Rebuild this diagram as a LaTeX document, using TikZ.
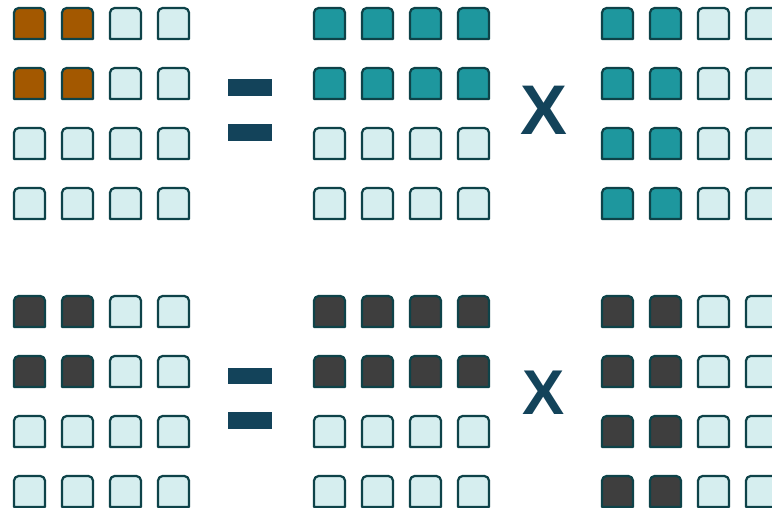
\documentclass[tikz,border=0pt]{standalone}
\usepackage{fontspec}
\newfontfamily\symfont{Liberation Sans}
\usepackage{xcolor}

\definecolor{cellline}{HTML}{0E4349}
\definecolor{celllight}{HTML}{D6EEEF}
\definecolor{cellteal}{HTML}{1E979E}
\definecolor{cellorange}{HTML}{A35800}
\definecolor{cellgray}{HTML}{3E3E3E}
\definecolor{symcol}{HTML}{13435A}

\tikzset{
  cell/.style={draw=cellline, line width=1.9pt, line join=round},
  opsign/.style={text=symcol, inner sep=0pt, font=\symfont\bfseries\fontsize{#1}{#1}\selectfont},
}
% one cell with rounded top corners, top-left corner at (#1,#2)
\newcommand{\cellat}[3]{%
  \filldraw[cell, fill=#3] (#1,#2+31) [rounded corners=4pt] -- (#1,#2) -- (#1+31,#2) [sharp corners] -- (#1+31,#2+31) -- cycle;}

\begin{document}
\begin{tikzpicture}[x=0.03cm, y=-0.03cm]
  \useasboundingbox (0,0) rectangle (772,508);
  \fill[white] (0,0) rectangle (772,508);
  \clip (0,0) rectangle (772,508);
  % top row: result, left factor, right factor
  \begin{scope}[shift={(14,8)}]
    \foreach \c in {0,...,3} \foreach \r in {0,...,3} {
      \ifnum\c<2 \ifnum\r<2 \def\f{cellorange}\else\def\f{celllight}\fi \else\def\f{celllight}\fi
      \cellat{48*\c}{60*\r}{\f}
    }
  \end{scope}
  \begin{scope}[shift={(314,8)}]
    \foreach \c in {0,...,3} \foreach \r in {0,...,3} {
      \ifnum\r<2 \def\f{cellteal}\else\def\f{celllight}\fi
      \cellat{48*\c}{60*\r}{\f}
    }
  \end{scope}
  \begin{scope}[shift={(602,8)}]
    \foreach \c in {0,...,3} \foreach \r in {0,...,3} {
      \ifnum\c<2 \def\f{cellteal}\else\def\f{celllight}\fi
      \cellat{48*\c}{60*\r}{\f}
    }
  \end{scope}
  % bottom row
  \begin{scope}[shift={(14,296)}]
    \foreach \c in {0,...,3} \foreach \r in {0,...,3} {
      \ifnum\c<2 \ifnum\r<2 \def\f{cellgray}\else\def\f{celllight}\fi \else\def\f{celllight}\fi
      \cellat{48*\c}{60*\r}{\f}
    }
  \end{scope}
  \begin{scope}[shift={(314,296)}]
    \foreach \c in {0,...,3} \foreach \r in {0,...,3} {
      \ifnum\r<2 \def\f{cellgray}\else\def\f{celllight}\fi
      \cellat{48*\c}{60*\r}{\f}
    }
  \end{scope}
  \begin{scope}[shift={(602,296)}]
    \foreach \c in {0,...,3} \foreach \r in {0,...,3} {
      \ifnum\c<2 \def\f{cellgray}\else\def\f{celllight}\fi
      \cellat{48*\c}{60*\r}{\f}
    }
  \end{scope}
  % equals signs
  \fill[symcol] (228,79) rectangle (272,96);
  \fill[symcol] (228,124) rectangle (272,141);
  \fill[symcol] (228,368) rectangle (272,384);
  \fill[symcol] (228,412) rectangle (272,429);
  % times signs
  \node[opsign=60] (timestop) at (544,110) {X};
  \node[opsign=54] (timesbot) at (544,393) {X};
\end{tikzpicture}
\end{document}
